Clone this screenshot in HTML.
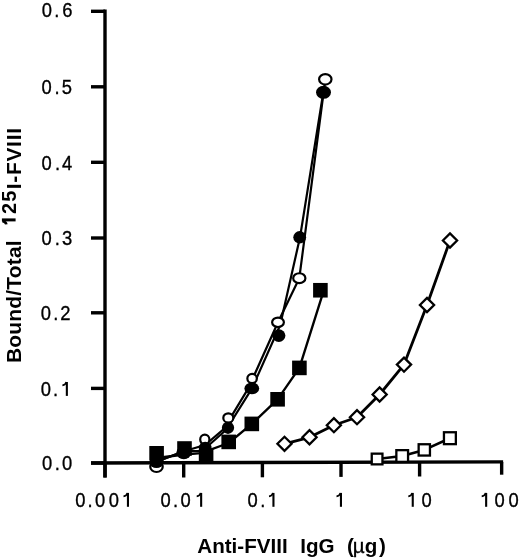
<!DOCTYPE html>
<html><head><meta charset="utf-8"><style>
html,body{margin:0;padding:0;background:#fff;width:520px;height:558px;overflow:hidden}
svg{display:block;will-change:transform}
text{-webkit-font-smoothing:antialiased}
.t{font-family:"Liberation Sans",sans-serif;font-size:21.0px;fill:#000;stroke:#000;stroke-width:0.35px}
.b{font-family:"Liberation Sans",sans-serif;font-weight:bold;fill:#000}
</style></head><body>
<svg width="520" height="558" viewBox="0 0 520 558">
<rect width="520" height="558" fill="#fff"/>
<g stroke="#000" stroke-width="3.4" fill="none" stroke-linecap="butt">
<line x1="105.0" y1="9.6" x2="105.0" y2="477.5"/>
<line x1="91" y1="462.95" x2="503.1" y2="461.9"/>
<line x1="91" y1="11.3" x2="105.0" y2="11.3"/>
<line x1="91" y1="86.8" x2="105.0" y2="86.8"/>
<line x1="91" y1="162.3" x2="105.0" y2="162.3"/>
<line x1="91" y1="238.0" x2="105.0" y2="238.0"/>
<line x1="91" y1="312.8" x2="105.0" y2="312.8"/>
<line x1="91" y1="388.4" x2="105.0" y2="388.4"/>
<line x1="91" y1="463.0" x2="105.0" y2="463.0"/>
<line x1="105.0" y1="462.91" x2="105.0" y2="477.5"/>
<line x1="183.7" y1="462.71" x2="183.7" y2="477.5"/>
<line x1="262.4" y1="462.51" x2="262.4" y2="477.3"/>
<line x1="341.0" y1="462.31" x2="341.0" y2="476.9"/>
<line x1="419.6" y1="462.11" x2="419.6" y2="476.5"/>
<line x1="501.65" y1="461.90" x2="501.65" y2="474.7"/>
</g>
<g fill="#000">
<text class="t" transform="translate(41.68,17.30) scale(0.876,1)">0</text>
<text class="t" transform="translate(54.32,17.30) scale(0.876,1)">.</text>
<text class="t" transform="translate(62.27,17.30) scale(0.876,1)">6</text>
<text class="t" transform="translate(41.48,93.60) scale(0.876,1)">0</text>
<text class="t" transform="translate(54.42,93.60) scale(0.876,1)">.</text>
<text class="t" transform="translate(61.86,93.60) scale(0.876,1)">5</text>
<text class="t" transform="translate(41.58,169.80) scale(0.876,1)">0</text>
<text class="t" transform="translate(55.02,169.80) scale(0.876,1)">.</text>
<text class="t" transform="translate(61.98,169.80) scale(0.876,1)">4</text>
<text class="t" transform="translate(41.48,244.90) scale(0.876,1)">0</text>
<text class="t" transform="translate(54.82,244.90) scale(0.876,1)">.</text>
<text class="t" transform="translate(61.90,244.90) scale(0.876,1)">3</text>
<text class="t" transform="translate(40.78,319.90) scale(0.876,1)">0</text>
<text class="t" transform="translate(53.22,319.90) scale(0.876,1)">.</text>
<text class="t" transform="translate(60.17,319.90) scale(0.876,1)">2</text>
<text class="t" transform="translate(40.78,395.90) scale(0.876,1)">0</text>
<text class="t" transform="translate(53.12,395.90) scale(0.876,1)">.</text>
<path d="M65.80,395.90 V382.00 H67.90 V395.90 Z"/><path d="M62.40,385.40 C64.40,385.20 65.80,384.00 66.40,382.10" fill="none" stroke="#000" stroke-width="1.8"/>
<text class="t" transform="translate(41.88,470.20) scale(0.876,1)">0</text>
<text class="t" transform="translate(54.82,470.20) scale(0.876,1)">.</text>
<text class="t" transform="translate(61.88,470.20) scale(0.876,1)">0</text>
<text class="t" transform="translate(75.28,506.80) scale(0.876,1)">0</text>
<text class="t" transform="translate(87.42,506.80) scale(0.876,1)">.</text>
<text class="t" transform="translate(94.98,506.80) scale(0.876,1)">0</text>
<text class="t" transform="translate(108.78,506.80) scale(0.876,1)">0</text>
<path d="M126.90,506.80 V492.90 H129.00 V506.80 Z"/><path d="M123.50,496.30 C125.50,496.10 126.90,494.90 127.50,493.00" fill="none" stroke="#000" stroke-width="1.8"/>
<text class="t" transform="translate(160.58,506.80) scale(0.876,1)">0</text>
<text class="t" transform="translate(172.92,506.80) scale(0.876,1)">.</text>
<text class="t" transform="translate(180.58,506.80) scale(0.876,1)">0</text>
<path d="M200.10,506.80 V492.90 H202.20 V506.80 Z"/><path d="M196.70,496.30 C198.70,496.10 200.10,494.90 200.70,493.00" fill="none" stroke="#000" stroke-width="1.8"/>
<text class="t" transform="translate(247.48,506.80) scale(0.876,1)">0</text>
<text class="t" transform="translate(260.22,506.80) scale(0.876,1)">.</text>
<path d="M272.40,506.80 V492.90 H274.50 V506.80 Z"/><path d="M269.00,496.30 C271.00,496.10 272.40,494.90 273.00,493.00" fill="none" stroke="#000" stroke-width="1.8"/>
<path d="M339.90,506.80 V492.90 H342.00 V506.80 Z"/><path d="M336.50,496.30 C338.50,496.10 339.90,494.90 340.50,493.00" fill="none" stroke="#000" stroke-width="1.8"/>
<path d="M411.70,506.80 V492.90 H413.80 V506.80 Z"/><path d="M408.30,496.30 C410.30,496.10 411.70,494.90 412.30,493.00" fill="none" stroke="#000" stroke-width="1.8"/>
<text class="t" transform="translate(421.58,506.80) scale(0.876,1)">0</text>
<path d="M485.10,506.80 V492.90 H487.20 V506.80 Z"/><path d="M481.70,496.30 C483.70,496.10 485.10,494.90 485.70,493.00" fill="none" stroke="#000" stroke-width="1.8"/>
<text class="t" transform="translate(494.48,506.80) scale(0.876,1)">0</text>
<text class="t" transform="translate(508.48,506.80) scale(0.876,1)">0</text>
</g>
<text class="b" x="197.29" y="552.8" font-size="20.6" textLength="90.39" lengthAdjust="spacing">Anti-FVIII</text>
<text class="b" x="300.37" y="552.8" font-size="20.6" textLength="34.11" lengthAdjust="spacing">IgG</text>
<text class="b" x="346.97" y="552.8" font-size="20.6">(<tspan font-weight="normal" stroke="#000" stroke-width="0.3" x="352.79">µ</tspan><tspan stroke="none" x="364.76">g</tspan><tspan x="379.08">)</tspan></text>
<text class="b" transform="translate(20.7,361.6) rotate(-90)" x="-1.40" y="0" font-size="21.0" textLength="122.59" lengthAdjust="spacing">Bound/Total</text>
<g transform="translate(15.6,224.5) rotate(-90)"><path d="M3.1,0 V-13.7 H6.1 V0 Z"/><path d="M0.2,-9.3 C1.6,-9.4 3.0,-10.6 3.6,-13.2" fill="none" stroke="#000" stroke-width="2.6"/><text class="b" font-size="20.0" x="10.61 22.68" y="0">25</text></g>
<text class="b" transform="translate(20.7,187.9) rotate(-90)" x="-1.40" y="0" font-size="21.0" textLength="61.31" lengthAdjust="spacing">I-FVIII</text>
<g stroke="#000" fill="none" stroke-linejoin="round">
<polyline points="156.5,461.8 184.0,451.2 205.0,445.0 223.5,429.4 248.3,388.4 278.0,322.3 299.3,278.2 325.3,79.3" stroke-width="2.2"/>
<polyline points="156.5,461.6 184.0,451.3 202.5,450.8 226.0,430.0 252.0,388.4 280.2,325.0 300.0,237.3 323.3,92.3" stroke-width="2.2"/>
<polyline points="156.6,458.0 184.5,454.5 201.0,453.2 228.7,443.0 251.8,423.9 277.6,399.3 299.4,367.9 323.8,290.3" stroke-width="2.35"/>
<polyline points="284.5,443.8 309.5,437.3 333.9,425.2 357.0,417.2 379.6,394.5 404.0,364.6 427.0,305.0 450.0,240.5" stroke-width="2.8"/>
<polyline points="377.1,459.0 402.2,456.0 424.3,449.9 449.9,438.2" stroke-width="2.6"/>
</g>
<g stroke="#000">
<ellipse cx="156.5" cy="466.9" rx="6.20" ry="5.10" fill="#fff" stroke-width="2.2"/>
<ellipse cx="184.0" cy="451.0" rx="5.40" ry="4.90" fill="#fff" stroke-width="2.2"/>
<ellipse cx="204.8" cy="439.5" rx="4.60" ry="4.80" fill="#fff" stroke-width="2.2"/>
<ellipse cx="228.3" cy="417.9" rx="5.00" ry="4.60" fill="#fff" stroke-width="2.2"/>
<ellipse cx="252.1" cy="378.5" rx="4.75" ry="4.60" fill="#fff" stroke-width="2.2"/>
<ellipse cx="278.0" cy="322.3" rx="5.90" ry="4.70" fill="#fff" stroke-width="2.2"/>
<ellipse cx="299.3" cy="278.2" rx="6.10" ry="4.95" fill="#fff" stroke-width="2.2"/>
<ellipse cx="325.3" cy="79.3" rx="6.20" ry="5.25" fill="#fff" stroke-width="2.2"/>
<ellipse cx="156.5" cy="461.8" rx="6.90" ry="6.30" fill="#000" stroke="none"/>
<ellipse cx="183.8" cy="452.8" rx="7.50" ry="6.40" fill="#000" stroke="none"/>
<ellipse cx="205.2" cy="448.0" rx="6.40" ry="6.30" fill="#000" stroke="none"/>
<ellipse cx="228.0" cy="427.8" rx="6.15" ry="6.10" fill="#000" stroke="none"/>
<ellipse cx="251.8" cy="388.4" rx="7.40" ry="5.80" fill="#000" stroke="none"/>
<ellipse cx="278.8" cy="335.6" rx="6.60" ry="6.30" fill="#000" stroke="none"/>
<ellipse cx="299.7" cy="237.3" rx="6.40" ry="6.20" fill="#000" stroke="none"/>
<ellipse cx="323.5" cy="92.3" rx="7.50" ry="6.55" fill="#000" stroke="none"/>
<rect x="149.30" y="446.00" width="14.6" height="14.6" fill="#000" stroke="none"/>
<rect x="177.20" y="441.20" width="14.6" height="14.6" fill="#000" stroke="none"/>
<rect x="198.80" y="448.60" width="14.6" height="14.6" fill="#000" stroke="none"/>
<rect x="221.40" y="434.60" width="14.6" height="14.6" fill="#000" stroke="none"/>
<rect x="244.50" y="416.60" width="14.6" height="14.6" fill="#000" stroke="none"/>
<rect x="270.30" y="392.00" width="14.6" height="14.6" fill="#000" stroke="none"/>
<rect x="292.10" y="360.60" width="14.6" height="14.6" fill="#000" stroke="none"/>
<rect x="313.10" y="282.95" width="14.6" height="14.6" fill="#000" stroke="none"/>
<polygon points="277.4,443.8 284.5,436.8 291.6,443.8 284.5,450.9" fill="#fff" stroke-width="2.3"/>
<polygon points="302.4,437.3 309.5,430.2 316.6,437.3 309.5,444.4" fill="#fff" stroke-width="2.3"/>
<polygon points="326.8,425.2 333.9,418.1 340.9,425.2 333.9,432.2" fill="#fff" stroke-width="2.3"/>
<polygon points="349.9,417.2 357.0,410.1 364.1,417.2 357.0,424.2" fill="#fff" stroke-width="2.3"/>
<polygon points="372.6,394.5 379.6,387.4 386.7,394.5 379.6,401.6" fill="#fff" stroke-width="2.3"/>
<polygon points="396.9,364.6 404.0,357.6 411.1,364.6 404.0,371.7" fill="#fff" stroke-width="2.3"/>
<polygon points="419.9,305.0 427.0,297.9 434.1,305.0 427.0,312.1" fill="#fff" stroke-width="2.3"/>
<polygon points="442.9,240.5 450.0,233.4 457.1,240.5 450.0,247.6" fill="#fff" stroke-width="2.3"/>
<rect x="371.75" y="453.65" width="10.70" height="10.70" fill="#fff" stroke-width="2.3"/>
<rect x="396.35" y="450.15" width="11.70" height="11.70" fill="#fff" stroke-width="2.3"/>
<rect x="418.65" y="444.25" width="11.30" height="11.30" fill="#fff" stroke-width="2.3"/>
<rect x="443.95" y="432.25" width="11.90" height="11.90" fill="#fff" stroke-width="2.3"/>
</g>
</svg></body></html>
